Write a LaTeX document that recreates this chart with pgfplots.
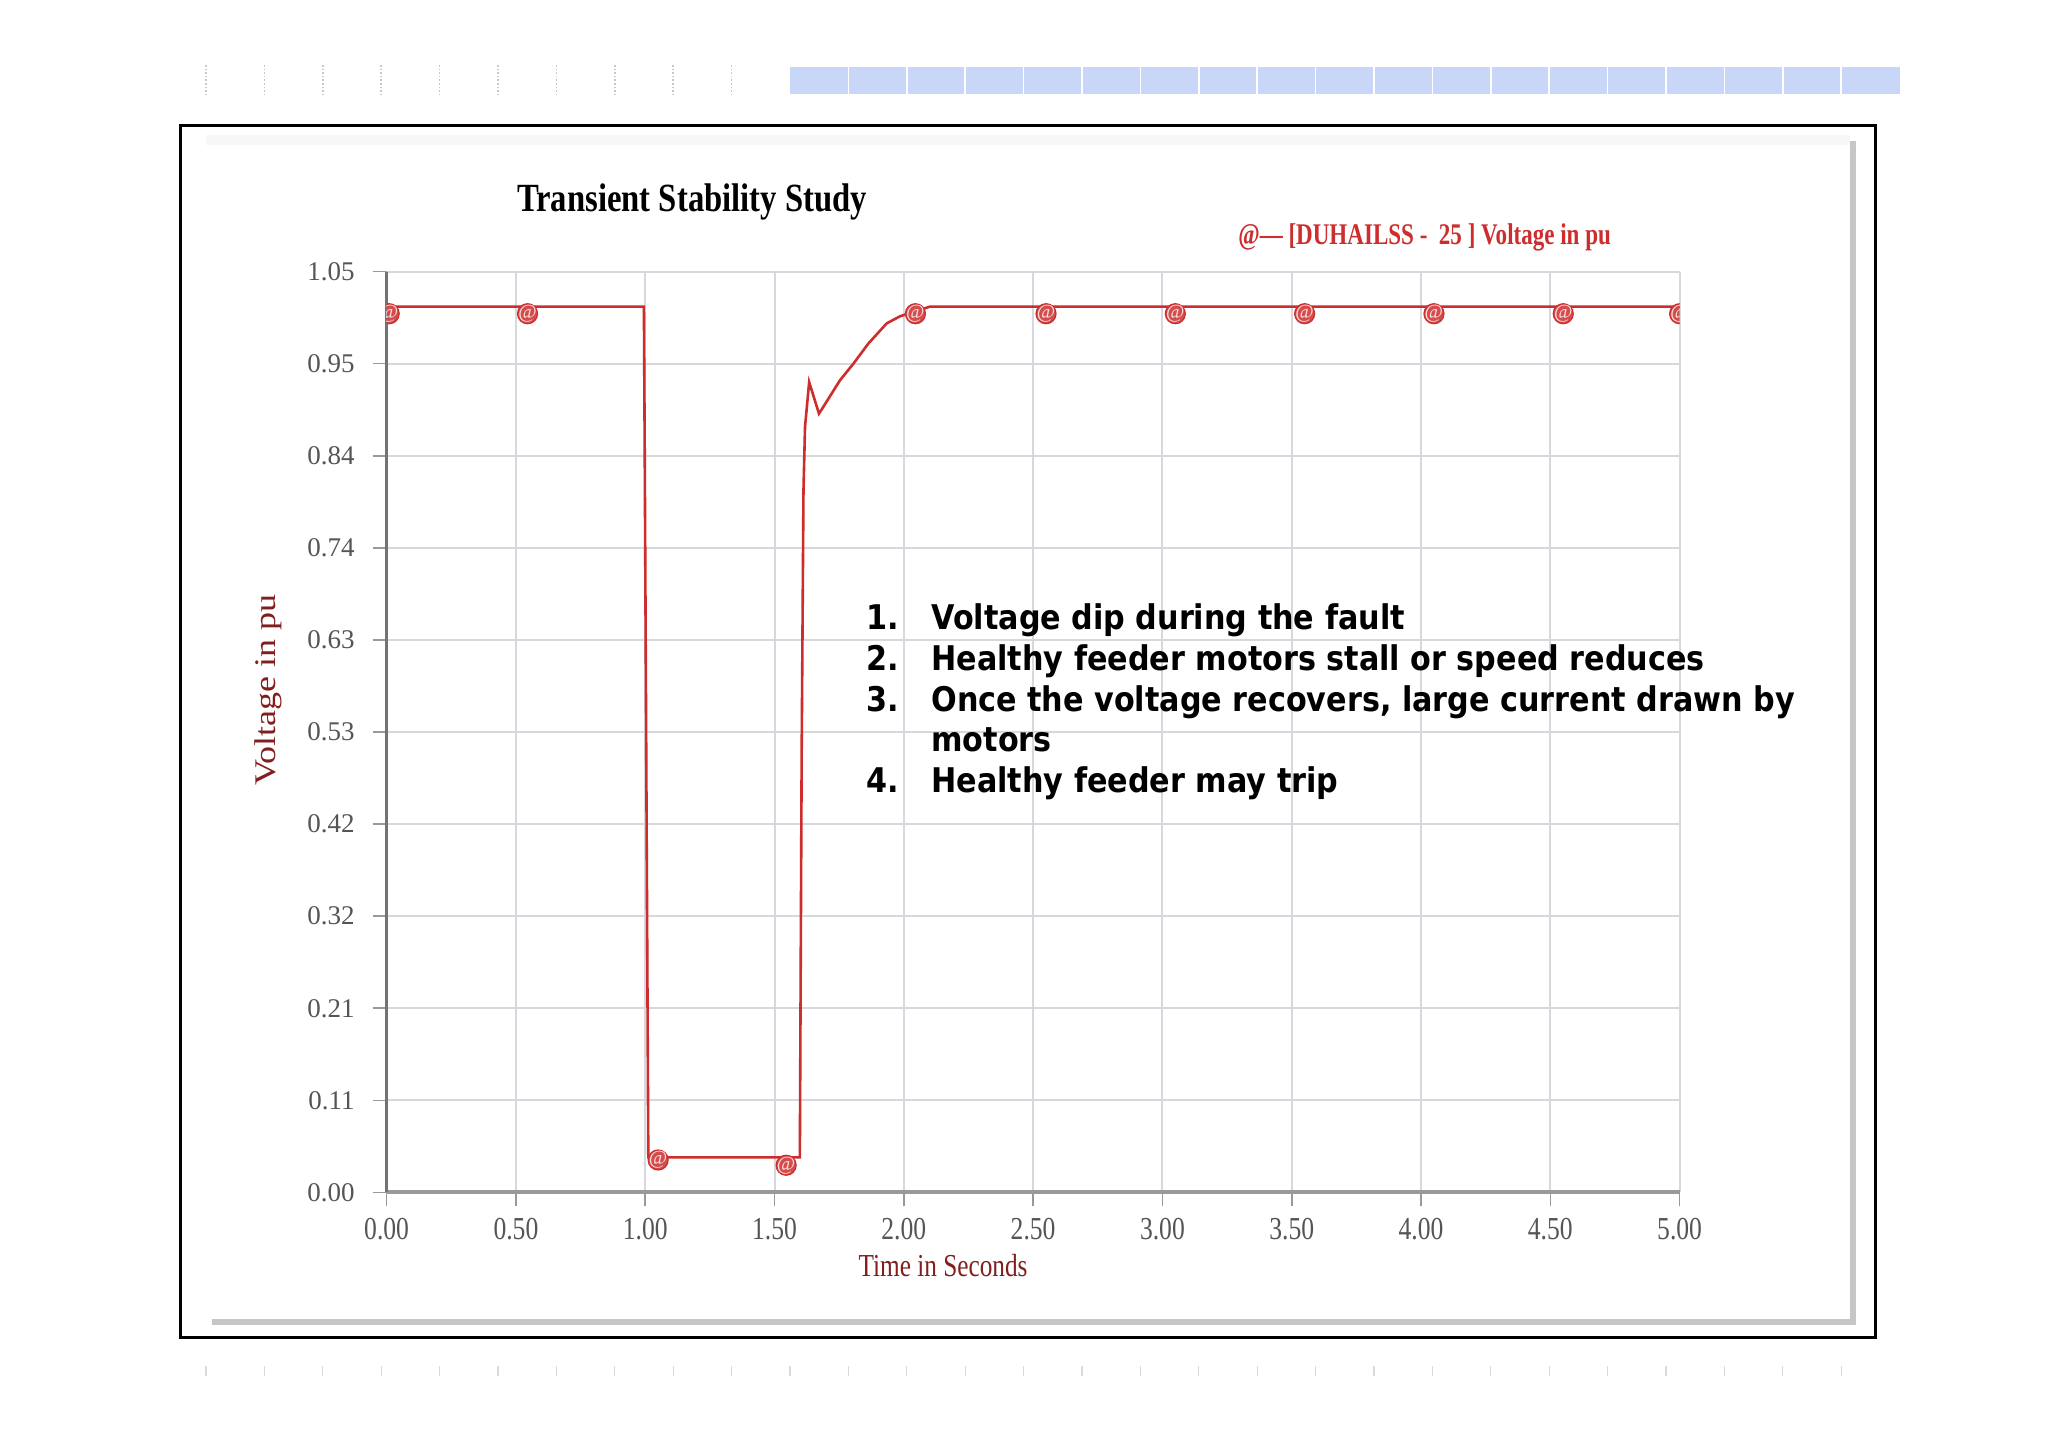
\documentclass[border=0pt]{standalone}
\usepackage{pgfplots}
\pgfplotsset{compat=1.18}
\usepackage{fontspec}
\setmainfont{Liberation Serif}
\newfontfamily\annfont{DejaVu Sans}
\definecolor{lineRed}{RGB}{205,45,45}
\definecolor{labRed}{RGB}{130,30,30}
\definecolor{gridgray}{RGB}{215,215,222}
\definecolor{barblue}{RGB}{200,215,248}
\definecolor{tickgray}{RGB}{85,85,85}
\begin{document}
\begin{tikzpicture}
\begin{scope}[x=0.5pt,y=-0.5pt]
\fill[white] (0,0) rectangle (2048,1447);
\useasboundingbox (0,0) rectangle (2048,1447);
\foreach \i in {0,...,9} \draw[gray!45, densely dotted, line width=0.8pt] ({206+58.4*\i},65) -- ({206+58.4*\i},95);
\fill[barblue] (790,67) rectangle (1900,94);
\foreach \i in {1,...,18} \draw[white, line width=0.8pt] ({790+58.4*\i},67) -- ({790+58.4*\i},94);
\foreach \i in {0,...,28} \draw[gray!30, line width=0.6pt] ({206+58.4*\i},1366) -- ({206+58.4*\i},1376);
\draw[black, line width=1.5pt] (180,125) rectangle (1875,1337);
\fill[gray!45] (212,141) rectangle (1856,1325);
\fill[white] (206,135) rectangle (1850,1319);
\fill[gray!6] (206,135) rectangle (1850,145);
\end{scope}
\begin{axis}[
  at={(193.3pt,-596.2pt)}, anchor=south west,
  scale only axis, width=646.5pt, height=460.4pt,
  xmin=0, xmax=5, ymin=0, ymax=1.05,
  axis x line*=bottom, axis y line*=left,
  axis line style={-},
  x axis line style={draw=gray!80, line width=2pt},
  y axis line style={draw=gray!90!black, line width=1.2pt},
  grid=major, grid style={gridgray, line width=1pt},
  xtick={0,0.5,1,1.5,2,2.5,3,3.5,4,4.5,5},
  xticklabels={0.00,0.50,1.00,1.50,2.00,2.50,3.00,3.50,4.00,4.50,5.00},
  ytick={0,0.105,0.21,0.315,0.42,0.525,0.63,0.735,0.84,0.945,1.05},
  yticklabels={0.00,0.11,0.21,0.32,0.42,0.53,0.63,0.74,0.84,0.95,1.05},
  tick align=outside, major tick length=7pt,
  tick style={draw=gray!80, line width=0.8pt},
  xticklabel style={font=\fontsize{16}{16}\selectfont, text=tickgray, xscale=0.8, yshift=-2.6pt},
  yticklabel style={font=\fontsize{13.5}{14}\selectfont, text=tickgray, xshift=-5.5pt},
  clip marker paths=true,
]
\addplot[lineRed, line width=1.3pt] coordinates {
(0,1.01) (0.995,1.01) (0.998,0.85) (1.012,0.04) (1.598,0.04)
(1.605,0.50) (1.612,0.80) (1.618,0.873) (1.634,0.924) (1.672,0.888)
(1.702,0.902) (1.753,0.926) (1.805,0.945) (1.863,0.968) (1.934,0.991)
(1.985,0.999) (2.10,1.01) (5,1.01)};
\addplot[only marks, mark=*, mark size=5pt, mark options={draw=lineRed, fill=lineRed!85!white, line width=0.6pt}] coordinates {
(0.01,1.002) (0.545,1.002) (1.05,0.037) (1.545,0.031) (2.045,1.002)
(2.55,1.002) (3.05,1.002) (3.55,1.002) (4.05,1.002) (4.55,1.002) (5.0,1.002)};
\addplot[only marks, mark=text, text mark={@}, text mark as node=true,
  text mark style={font=\fontsize{10}{10}\selectfont, text=white!85!lineRed, inner sep=0pt}] coordinates {
(0.01,1.002) (0.545,1.002) (1.05,0.037) (1.545,0.031) (2.045,1.002)
(2.55,1.002) (3.05,1.002) (3.55,1.002) (4.05,1.002) (4.55,1.002) (5.0,1.002)};
\end{axis}
\begin{scope}[x=0.5pt,y=-0.5pt]
\node[anchor=base, xscale=0.817, inner sep=0] at (692,211) {\fontsize{20}{20}\selectfont\bfseries Transient Stability Study};
\node[anchor=base west, xscale=0.768, inner sep=0, text=lineRed] at (1238,244) {\fontsize{15}{15}\selectfont\bfseries @---\ [DUHAILSS -\ \ 25 ] Voltage in pu};
\node[rotate=90, text=labRed, inner sep=0] at (268,690) {\scalebox{1.2}[1]{\fontsize{15}{15}\selectfont Voltage in pu}};
\node[anchor=base, xscale=0.79, text=labRed, inner sep=0] at (943,1276) {\fontsize{16}{16}\selectfont Time in Seconds};
\begin{scope}[every node/.style={anchor=base west, inner sep=0, xscale=0.889, font=\annfont\bfseries\fontsize{17}{17}\selectfont}]
\node at (866,629.5) {1.};
\node at (931,629.5) {Voltage dip during the fault};
\node at (866,670.3) {2.};
\node at (931,670.3) {Healthy feeder motors stall or speed reduces};
\node at (866,711.1) {3.};
\node at (931,711.1) {Once the voltage recovers, large current drawn by};
\node at (931,751.9) {motors};
\node at (866,792.7) {4.};
\node at (931,792.7) {Healthy feeder may trip};
\end{scope}
\end{scope}
\end{tikzpicture}
\end{document}
